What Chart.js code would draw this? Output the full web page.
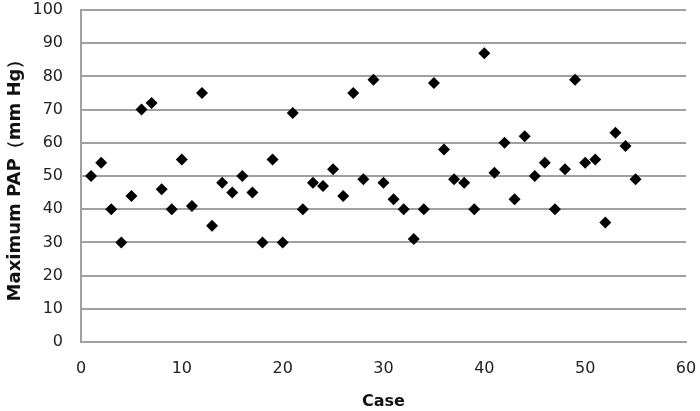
<!DOCTYPE html>
<html>
<head>
<meta charset="utf-8">
<script src="https://cdn.jsdelivr.net/npm/chart.js@4/dist/chart.umd.min.js"></script>
<style>
html,body{margin:0;padding:0;background:#fff;}
#wrap{width:700px;height:411px;position:relative;}
</style>
</head>
<body>
<div id="wrap"><canvas id="c" width="700" height="411"></canvas></div>
<script>
const cases = [1,2,3,4,5,6,7,8,9,10,11,12,13,14,15,16,17,18,19,20,21,22,23,24,25,26,27,28,29,30,31,32,33,34,35,36,37,38,39,40,41,42,43,44,45,46,47,48,49,50,51,52,53,54,55];
const maxPAP = [50,54,40,30,44,70,72,46,40,55,41,75,35,48,45,50,45,30,55,30,69,40,48,47,52,44,75,49,79,48,43,40,31,40,78,58,49,48,40,87,51,60,43,62,50,54,40,52,79,54,55,36,63,59,49];
const xTicks = [0,10,20,30,40,50,60];
const yTicks = [0,10,20,30,40,50,60,70,80,90,100];
const xTitle = 'Case';
const yTitle = 'Maximum PAP（mm Hg）';

const points = cases.map((c,i)=>({x:c,y:maxPAP[i]}));
const FAM = '"DejaVu Sans", sans-serif';
const tickFont = {family:FAM, size:16};

new Chart(document.getElementById('c'), {
  type:'scatter',
  data:{datasets:[{data:points, pointStyle:'rectRot', pointRadius:6, pointHoverRadius:6,
    backgroundColor:'#000', borderColor:'#000', borderWidth:0}]},
  options:{
    responsive:false, animation:false,
    layout:{padding:{top:10,right:14,left:0,bottom:0}},
    plugins:{legend:{display:false}, tooltip:{enabled:false}},
    scales:{
      x:{type:'linear', min:0, max:60,
        afterBuildTicks:(s)=>{s.ticks = xTicks.map(v=>({value:v}));},
        afterFit:(s)=>{s.height = 69; s.paddingLeft = 0; s.paddingRight = 0;},
        grid:{display:false, drawTicks:false},
        border:{display:true, color:'#a0a0a0', width:2},
        ticks:{color:'#222', font:tickFont, padding:17, maxRotation:0},
        title:{display:true, text:xTitle, color:'#111', font:{family:FAM, size:16, weight:'bold'}, padding:{top:4,bottom:0}}
      },
      y:{type:'linear', min:0, max:100,
        afterBuildTicks:(s)=>{s.ticks = yTicks.map(v=>({value:v}));},
        afterFit:(s)=>{s.width = 81; s.paddingTop = 0; s.paddingBottom = 0;},
        grid:{color:'#a0a0a0', lineWidth:2, drawTicks:false},
        border:{display:true, color:'#a0a0a0', width:2},
        ticks:{color:'#222', font:tickFont, padding:18},
        title:{display:true, text:yTitle, color:'#111', font:{family:FAM, size:18, weight:'bold'}, padding:{top:5,bottom:4}}
      }
    }
  }
});
</script>
</body>
</html>
